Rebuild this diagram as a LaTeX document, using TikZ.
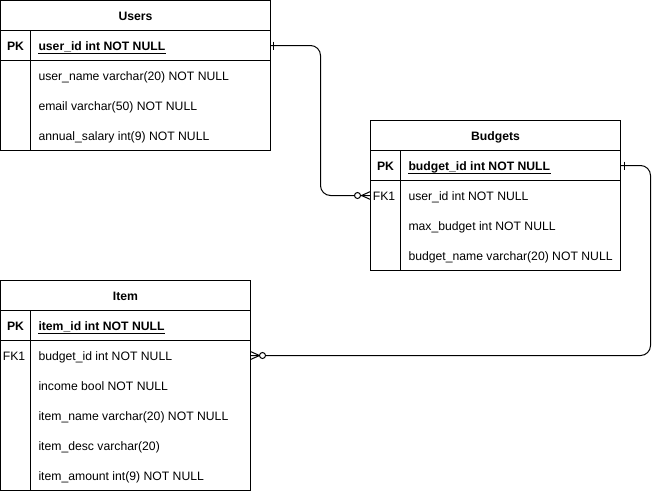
\documentclass[tikz,border=0pt]{standalone}
\usepackage{fontspec}
\setmainfont{Liberation Sans}
\usetikzlibrary{calc}
\begin{document}
\begin{tikzpicture}[x=1pt,y=-1pt,line width=1pt,
  part/.style={draw,minimum width=#1,inner sep=0pt,outer sep=0pt,anchor=north west},
  rowbox/.style={minimum width=#1,minimum height=30pt,inner sep=0pt,outer sep=0pt,anchor=north west},
  ttl/.style={font=\fontsize{12.2}{14}\selectfont\bfseries,text height=8.6pt,text depth=0pt,inner sep=0pt,yshift=-1pt},
  key/.style={font=\fontsize{12.2}{14}\selectfont\bfseries,text height=8.6pt,text depth=0pt,inner sep=0pt,yshift=-1pt},
  fkey/.style={font=\fontsize{12.2}{14}\selectfont,text height=8.6pt,text depth=0pt,inner sep=0pt,yshift=-1pt},
  fld/.style={font=\fontsize{12.2}{14}\selectfont,anchor=west,text height=8.6pt,text depth=0pt,inner sep=0pt,yshift=-1pt},
  pkfld/.style={font=\fontsize{12.2}{14}\selectfont\bfseries,anchor=west,text height=8.6pt,text depth=0pt,inner sep=0pt,yshift=-1pt},
  conn/.style={rounded corners=10pt},
  ring/.style={draw,fill=white,circle,minimum size=6pt,inner sep=0pt,line width=1pt}
]
\useasboundingbox (0,0) rectangle (660,491);

% ---------- Users ----------
\node[part=270pt,minimum height=30pt] (ut) at (0.5,0.5) {};
\node[ttl] (utt) at (ut.center) {Users};
\node[part=270pt,minimum height=30pt] (upk) at (0.5,30.5) {};
\node[part=270pt,minimum height=90pt] (ub) at (0.5,60.5) {};
\draw (30.5,30.5) -- (30.5,150.5);
\node[key] (upkl) at (15.5,45.5) {PK};
\node[pkfld] (upkf) at (38,45.5) {user\_id int NOT NULL};
\draw[line width=0.8pt] ($(upkf.south west)+(0,2.2)$) -- ($(upkf.south east)+(0,2.2)$);
\node[fld] (u1) at (38,75.5) {user\_name varchar(20) NOT NULL};
\node[fld] (u2) at (38,105.5) {email varchar(50) NOT NULL};
\node[fld] (u3) at (38,135.5) {annual\_salary int(9) NOT NULL};

% ---------- Budgets ----------
\node[part=250pt,minimum height=30pt] (bt) at (370.5,120.5) {};
\node[ttl] (btt) at (bt.center) {Budgets};
\node[part=250pt,minimum height=30pt] (bpk) at (370.5,150.5) {};
\node[part=250pt,minimum height=90pt] (bb) at (370.5,180.5) {};
\node[rowbox=250pt] (bfk) at (370.5,180.5) {};
\draw (400.5,150.5) -- (400.5,270.5);
\node[key] (bpkl) at (385.5,165.5) {PK};
\node[pkfld] (bpkf) at (408,165.5) {budget\_id int NOT NULL};
\draw[line width=0.8pt] ($(bpkf.south west)+(0,2.2)$) -- ($(bpkf.south east)+(0,2.2)$);
\node[fkey] (bfkl) at (384,195.5) {FK1};
\node[fld] (b1) at (408,195.5) {user\_id int NOT NULL};
\node[fld] (b2) at (408,225.5) {max\_budget int NOT NULL};
\node[fld] (b3) at (408,255.5) {budget\_name varchar(20) NOT NULL};

% ---------- Item ----------
\node[part=250pt,minimum height=30pt] (it) at (0.5,280.5) {};
\node[ttl] (itt) at (it.center) {Item};
\node[part=250pt,minimum height=30pt] (ipk) at (0.5,310.5) {};
\node[part=250pt,minimum height=150pt] (ib) at (0.5,340.5) {};
\node[rowbox=250pt] (ifk) at (0.5,340.5) {};
\draw (30.5,310.5) -- (30.5,490.5);
\node[key] (ipkl) at (15.5,325.5) {PK};
\node[pkfld] (ipkf) at (38,325.5) {item\_id int NOT NULL};
\draw[line width=0.8pt] ($(ipkf.south west)+(0,2.2)$) -- ($(ipkf.south east)+(0,2.2)$);
\node[fkey] (ifkl) at (14,355.5) {FK1};
\node[fld] (i1) at (38,355.5) {budget\_id int NOT NULL};
\node[fld] (i2) at (38,385.5) {income bool NOT NULL};
\node[fld] (i3) at (38,415.5) {item\_name varchar(20) NOT NULL};
\node[fld] (i4) at (38,445.5) {item\_desc varchar(20)};
\node[fld] (i5) at (38,475.5) {item\_amount int(9) NOT NULL};

% ---------- Connector Users -> Budgets ----------
\draw[conn] (upk.east) -- ++(50,0) |- (bfk.west);
\draw ($(upk.east)+(3,-4)$) -- ++(0,8);
\draw ($(bfk.west)+(-9,0)$) -- ($(bfk.west)+(0,-4)$);
\draw ($(bfk.west)+(-9,0)$) -- ($(bfk.west)+(0,4)$);
\node[ring] (r1) at ($(bfk.west)+(-13,0)$) {};

% ---------- Connector Budgets -> Item ----------
\draw[conn] (bpk.east) -- ++(30,0) |- (ifk.east);
\draw ($(bpk.east)+(3.5,-4)$) -- ++(0,8);
\draw ($(ifk.east)+(9,0)$) -- ($(ifk.east)+(0,-4)$);
\draw ($(ifk.east)+(9,0)$) -- ($(ifk.east)+(0,4)$);
\node[ring] (r2) at ($(ifk.east)+(12,0)$) {};
\end{tikzpicture}
\end{document}
